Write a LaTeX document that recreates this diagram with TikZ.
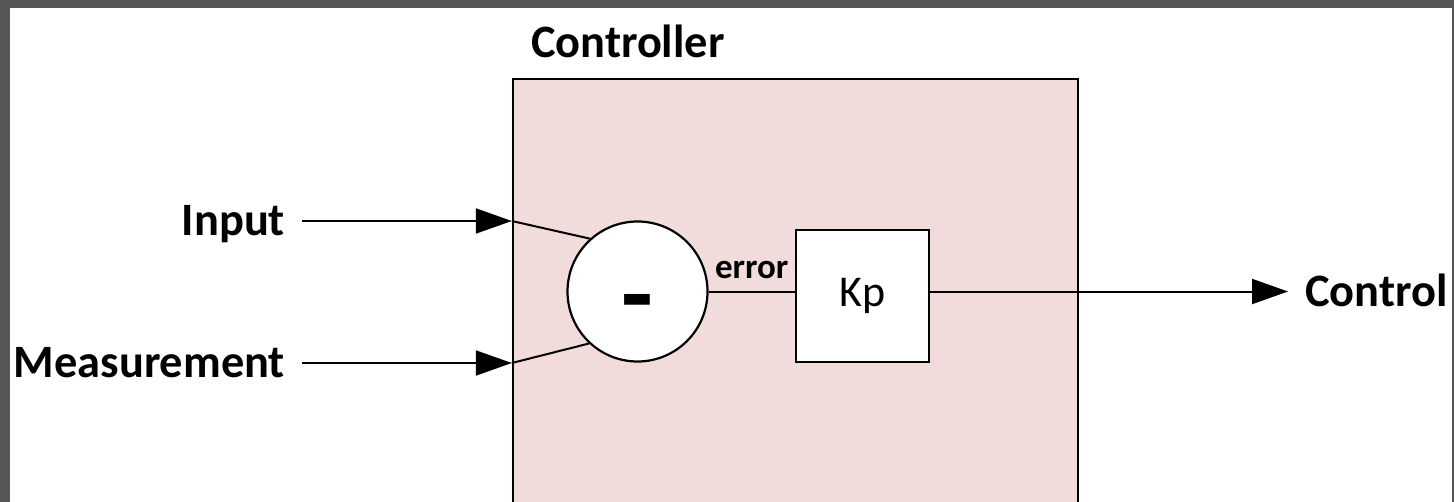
\documentclass[tikz,border=0pt]{standalone}
\usepackage{fontspec}
\setmainfont{Carlito}
\usetikzlibrary{arrows.meta, positioning}

\definecolor{ctrlpink}{RGB}{242,220,219}
\definecolor{framegray}{RGB}{86,86,86}

\begin{document}
\begin{tikzpicture}[x=0.5pt, y=-0.5pt, >={Triangle[length=18pt, width=12.5pt]}, line width=1pt]

            \tikzset{
                sig/.style={font=\fontsize{23.2}{28}\selectfont\bfseries, inner sep=0pt, text height=14.6pt, text depth=0pt},
                ctrlblock/.style={rectangle, draw, fill=ctrlpink, line width=1.2pt, minimum width=282.5pt, minimum height=212.5pt},
                junction/.style={circle, draw, fill=white, line width=1.1pt, minimum size=70pt, inner sep=0pt,
                    font=\fontsize{52}{60}\selectfont\bfseries, text height=38.3pt, text depth=0pt},
                gain/.style={rectangle, draw, fill=white, line width=1.1pt, minimum width=66.5pt, minimum height=66pt,
                    font=\fontsize{22}{26}\selectfont},
                errlabel/.style={midway, above=6pt, inner sep=0pt, font=\fontsize{17.5}{20}\selectfont\bfseries}
            }

            \useasboundingbox (0,0) rectangle (1454,502);

            % Frame
            \fill[framegray] (0,0) rectangle (1454,502);
            \fill[white] (10,8) rectangle (1452,502);

            % Controller block
            \node[ctrlblock] (ctrl) at (795.5,291.5) {};
            \node[sig, anchor=base west] (ctrltitle) at (530,58) {Controller};

            % Summing junction and gain
            \node[junction] (sum) at (637.5,291.5) {-};
            \node[gain] (kp) at (862.5,296) {Kp};

            % Signals in and out
            \node[sig, anchor=east, inner xsep=8pt] (input) at (302,221) {Input};
            \node[sig, anchor=east, inner xsep=8pt] (meas) at (302,363) {Measurement};
            \node[sig, anchor=west, inner xsep=8pt] (control) at (1288,291.5) {Control};

            \coordinate (inpt) at (input.east -| ctrl.west);
            \coordinate (measpt) at (meas.east -| ctrl.west);

            % Arrows
            \draw[->] (input) -- (inpt);
            \draw[->] (meas) -- (measpt);
            \draw (inpt) -- (sum.132);
            \draw (measpt) -- (sum.227);
            \draw (sum) -- node[errlabel] {error} (sum.east -| kp.west);
            \draw[->] (kp.east |- control.west) -- (control);

        \end{tikzpicture}
\end{document}
